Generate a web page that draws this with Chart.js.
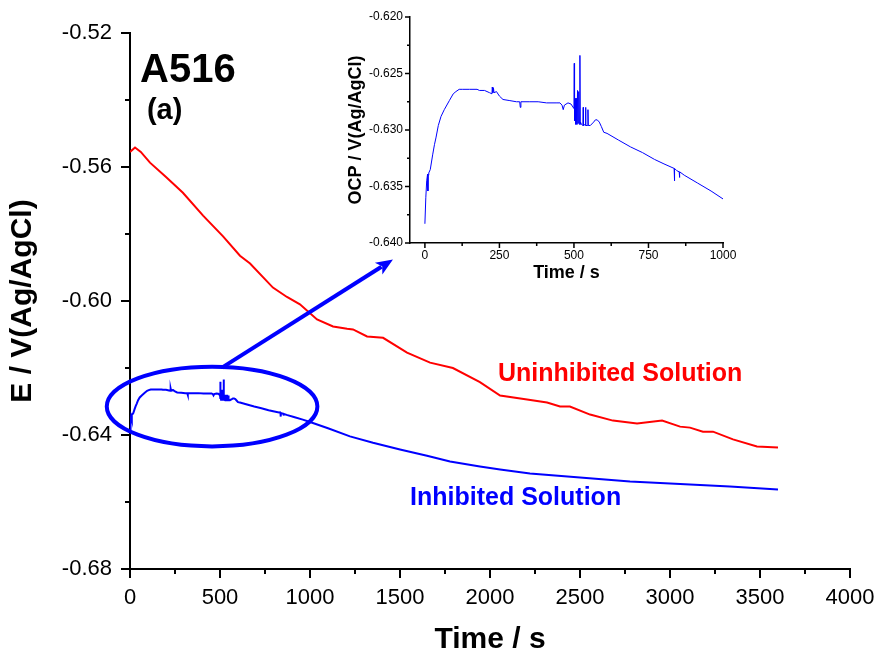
<!DOCTYPE html>
<html><head><meta charset="utf-8">
<script src="https://cdn.jsdelivr.net/npm/chart.js@4.4.1/dist/chart.umd.min.js"></script>
<style>
html,body{margin:0;padding:0;background:#fff;}
#wrap{position:relative;width:878px;height:655px;overflow:hidden;}
#main{position:absolute;left:0;top:0;width:878px;height:655px;}
#inset{position:absolute;left:330px;top:0;width:430px;height:290px;}
</style></head><body>
<div id="wrap">
<canvas id="main" width="878" height="655"></canvas>
<canvas id="inset" width="430" height="290"></canvas>
</div>
<script>
// ---------- DATA ----------
const uninhibitedTime = [0, 28, 60, 111, 200, 294, 406, 517, 611, 667, 794, 872, 944, 1039, 1128, 1206, 1239, 1317, 1406, 1539, 1667, 1794, 1944, 2056, 2206, 2317, 2389, 2444, 2556, 2683, 2817, 2956, 3056, 3111, 3183, 3239, 3350, 3483, 3600];
const uninhibitedE = [-0.5555, -0.5542, -0.5555, -0.5587, -0.5630, -0.5677, -0.5745, -0.5807, -0.5865, -0.5888, -0.5960, -0.5988, -0.6010, -0.6055, -0.6076, -0.6083, -0.6085, -0.6106, -0.6110, -0.6154, -0.6184, -0.6200, -0.6242, -0.6282, -0.6294, -0.6303, -0.6315, -0.6315, -0.6339, -0.6357, -0.6366, -0.6357, -0.6375, -0.6378, -0.6390, -0.6390, -0.6413, -0.6434, -0.6437];

// inhibited solution, first 1000 s (also shown in the inset)
const inhibitedTime = [0, 3, 6, 9, 10, 11, 13, 18, 26, 32, 37, 45, 54, 65, 82, 95, 104, 115, 127, 150, 175, 183, 200, 217, 225, 226, 228, 230, 232, 240, 250, 262, 285, 307, 318, 320, 322, 352, 380, 408, 440, 453, 460, 464, 468, 480, 490, 500, 501, 502, 504, 506, 508, 510, 512, 514, 516, 518, 520, 521, 522, 525, 530, 531, 532, 538, 539, 540, 546, 547, 548, 555, 566, 572, 578, 585, 592, 600, 611, 650, 690, 730, 770, 802, 836, 837, 838, 845, 853, 854, 855, 870, 915, 960, 1000];
const inhibitedE = [-0.6383, -0.6360, -0.6345, -0.6339, -0.6354, -0.6340, -0.6338, -0.6335, -0.6322, -0.6313, -0.6307, -0.6296, -0.6288, -0.6282, -0.6274, -0.6268, -0.6266, -0.6264, -0.6264, -0.6264, -0.6264, -0.6265, -0.6265, -0.6267, -0.6268, -0.6262, -0.6267, -0.6263, -0.6267, -0.6266, -0.6270, -0.6273, -0.6274, -0.6275, -0.6275, -0.6280, -0.6275, -0.6275, -0.6275, -0.6276, -0.6276, -0.6276, -0.6278, -0.6282, -0.6278, -0.6276, -0.6277, -0.6281, -0.6241, -0.6292, -0.6272, -0.6295, -0.6272, -0.6295, -0.6265, -0.6294, -0.6266, -0.6295, -0.6234, -0.6295, -0.6293, -0.6295, -0.6296, -0.6280, -0.6296, -0.6295, -0.6280, -0.6296, -0.6296, -0.6282, -0.6296, -0.6296, -0.6293, -0.6291, -0.6291, -0.6293, -0.6297, -0.6302, -0.6303, -0.6309, -0.6315, -0.6320, -0.6326, -0.6330, -0.6334, -0.6345, -0.6334, -0.6336, -0.6337, -0.6342, -0.6337, -0.6340, -0.6347, -0.6354, -0.6361];

// inhibited solution, remainder of the run
const inhibitedTailTime = [1100, 1222, 1350, 1500, 1650, 1778, 1944, 2056, 2222, 2500, 2778, 3056, 3333, 3600];
const inhibitedTailE = [-0.6380, -0.6404, -0.6423, -0.6443, -0.6462, -0.6479, -0.6494, -0.6503, -0.6515, -0.6527, -0.6539, -0.6546, -0.6554, -0.6563];

// tick values
const mainXMajor = [0, 500, 1000, 1500, 2000, 2500, 3000, 3500, 4000];
const mainXMinor = [250, 750, 1250, 1750, 2250, 2750, 3250, 3750];
const mainYMajor = [-0.68, -0.64, -0.60, -0.56, -0.52];
const mainYMinor = [-0.66, -0.62, -0.58, -0.54];
const insetXMajor = [0, 250, 500, 750, 1000];
const insetXMinor = [125, 375, 625, 875];
const insetYMajor = [-0.640, -0.635, -0.630, -0.625, -0.620];
const insetYMinor = [-0.6375, -0.6325, -0.6275, -0.6225];

// text
const seriesLabels = ['Uninhibited Solution', 'Inhibited Solution'];
const sampleLabel = 'A516';
const panelLabel = '(a)';

// ---------- HELPERS ----------
const FONT = '"Liberation Sans", Arial, Helvetica, sans-serif';
Chart.defaults.font.family = FONT;
Chart.defaults.color = '#000';

function pts(ts, vs) { return ts.map((t, i) => ({x: t, y: vs[i]})); }

function fixX(h) { return s => { s.height = h; s.paddingLeft = 0; s.paddingRight = 0; s.paddingTop = 0; s.paddingBottom = 0; }; }
function fixY(w) { return s => { s.width = w; s.paddingLeft = 0; s.paddingRight = 0; s.paddingTop = 0; s.paddingBottom = 0; }; }

function tickPlugin(id, o) {
  return {
    id,
    afterDraw(chart) {
      const ctx = chart.ctx, ca = chart.chartArea;
      const xs = chart.scales.x, ys = chart.scales.y;
      ctx.save();
      ctx.strokeStyle = '#000';
      ctx.lineWidth = o.w;
      ctx.beginPath();
      o.xMajor.forEach(v => { const p = xs.getPixelForValue(v); ctx.moveTo(p, ca.bottom); ctx.lineTo(p, ca.bottom + o.major); });
      o.xMinor.forEach(v => { const p = xs.getPixelForValue(v); ctx.moveTo(p, ca.bottom); ctx.lineTo(p, ca.bottom + o.minor); });
      o.yMajor.forEach(v => { const p = ys.getPixelForValue(v); ctx.moveTo(ca.left, p); ctx.lineTo(ca.left - o.major, p); });
      o.yMinor.forEach(v => { const p = ys.getPixelForValue(v); ctx.moveTo(ca.left, p); ctx.lineTo(ca.left - o.minor, p); });
      ctx.stroke();
      ctx.restore();
    }
  };
}

// annotation positions in data coordinates
const annot = {
  ellipse: {t: 456, e: -0.6315, rt: 585, re: 0.0119},
  arrowFrom: {t: 511, e: -0.6199},
  arrowTo: {t: 1461, e: -0.5876},
  sample: {t: 56, e: -0.5345},
  panel: {t: 94, e: -0.5458},
  uninh: {t: 2044, e: -0.6240},
  inh: {t: 1556, e: -0.6610}
};

const annotPlugin = {
  id: 'annot',
  afterDatasetsDraw(chart) {
    const ctx = chart.ctx, xs = chart.scales.x, ys = chart.scales.y;
    const X = t => xs.getPixelForValue(t), Y = e => ys.getPixelForValue(e);
    ctx.save();
    const el = annot.ellipse;
    const cx = X(el.t), cy = Y(el.e);
    const rx = X(el.t + el.rt) - cx, ry = Y(el.e - el.re) - cy;
    ctx.strokeStyle = '#0000ff';
    ctx.lineWidth = 4;
    ctx.beginPath();
    ctx.ellipse(cx, cy, rx, ry, 0, 0, Math.PI * 2);
    ctx.stroke();
    const x1 = X(annot.arrowFrom.t), y1 = Y(annot.arrowFrom.e);
    const x2 = X(annot.arrowTo.t), y2 = Y(annot.arrowTo.e);
    const dx = x2 - x1, dy = y2 - y1, len = Math.hypot(dx, dy);
    const ux = dx / len, uy = dy / len;
    const L = 17, W = 7;
    ctx.beginPath();
    ctx.moveTo(x1, y1);
    ctx.lineTo(x2 - ux * L * 0.8, y2 - uy * L * 0.8);
    ctx.stroke();
    ctx.fillStyle = '#0000ff';
    ctx.beginPath();
    ctx.moveTo(x2, y2);
    ctx.lineTo(x2 - ux * L - uy * W, y2 - uy * L + ux * W);
    ctx.lineTo(x2 - ux * L * 0.75, y2 - uy * L * 0.75);
    ctx.lineTo(x2 - ux * L + uy * W, y2 - uy * L - ux * W);
    ctx.closePath();
    ctx.fill();
    ctx.textBaseline = 'alphabetic';
    ctx.textAlign = 'left';
    ctx.fillStyle = '#000';
    ctx.font = 'bold 40px ' + FONT;
    ctx.fillText(sampleLabel, X(annot.sample.t), Y(annot.sample.e));
    ctx.font = 'bold 29px ' + FONT;
    ctx.fillText(panelLabel, X(annot.panel.t), Y(annot.panel.e));
    ctx.font = 'bold 25px ' + FONT;
    ctx.fillStyle = '#ff0000';
    ctx.fillText(seriesLabels[0], X(annot.uninh.t), Y(annot.uninh.e));
    ctx.fillStyle = '#0000ff';
    ctx.fillText(seriesLabels[1], X(annot.inh.t), Y(annot.inh.e));
    ctx.restore();
  }
};

// ---------- MAIN CHART ----------
new Chart(document.getElementById('main'), {
  type: 'scatter',
  data: {
    datasets: [
      {label: seriesLabels[0], data: pts(uninhibitedTime, uninhibitedE), showLine: true, borderColor: '#ff0000', borderWidth: 2, pointRadius: 0, tension: 0},
      {label: seriesLabels[1], data: pts(inhibitedTime.concat(inhibitedTailTime), inhibitedE.concat(inhibitedTailE)), showLine: true, borderColor: '#0000ff', borderWidth: 2, pointRadius: 0, tension: 0}
    ]
  },
  options: {
    responsive: false, animation: false, devicePixelRatio: 1,
    layout: {padding: {left: 0, top: 33, right: 28, bottom: 0}},
    plugins: {legend: {display: false}, tooltip: {enabled: false}},
    scales: {
      x: {
        type: 'linear', min: 0, max: 4000,
        afterBuildTicks: s => { s.ticks = mainXMajor.map(v => ({value: v})); },
        afterFit: fixX(86),
        grid: {drawOnChartArea: false, drawTicks: false},
        border: {display: true, color: '#000', width: 2},
        ticks: {padding: 16, autoSkip: false, maxRotation: 0, font: {size: 22}, color: '#000', callback: v => String(v)},
        title: {display: true, text: 'Time / s', font: {size: 30, weight: 'bold', lineHeight: 1}, padding: {top: 0, bottom: 0}, color: '#000'}
      },
      y: {
        type: 'linear', min: -0.68, max: -0.52,
        afterBuildTicks: s => { s.ticks = mainYMajor.map(v => ({value: v})); },
        afterFit: fixY(130),
        grid: {drawOnChartArea: false, drawTicks: false},
        border: {display: true, color: '#000', width: 2},
        ticks: {padding: 18, autoSkip: false, font: {size: 22}, color: '#000', callback: v => v.toFixed(2)},
        title: {display: true, text: 'E / V(Ag/AgCl)', font: {size: 30, weight: 'bold', lineHeight: 1}, padding: {top: 8, bottom: 0}, color: '#000'}
      }
    }
  },
  plugins: [tickPlugin('mainTicks', {w: 2, major: 9, minor: 5, xMajor: mainXMajor, xMinor: mainXMinor, yMajor: mainYMajor, yMinor: mainYMinor}), annotPlugin]
});

// ---------- INSET CHART ----------
new Chart(document.getElementById('inset'), {
  type: 'scatter',
  data: {
    datasets: [
      {label: seriesLabels[1], data: pts(inhibitedTime, inhibitedE), showLine: true, borderColor: '#0000ff', borderWidth: 1, pointRadius: 0, tension: 0}
    ]
  },
  options: {
    responsive: false, animation: false, devicePixelRatio: 1,
    layout: {padding: {left: 0, top: 17, right: 37, bottom: 0}},
    plugins: {legend: {display: false}, tooltip: {enabled: false}},
    scales: {
      x: {
        type: 'linear', min: -50, max: 1000,
        afterBuildTicks: s => { s.ticks = insetXMajor.map(v => ({value: v})); },
        afterFit: fixX(47),
        grid: {drawOnChartArea: false, drawTicks: false},
        border: {display: true, color: '#000', width: 1.5},
        ticks: {padding: 5, autoSkip: false, maxRotation: 0, font: {size: 12}, color: '#000', callback: v => String(v)},
        title: {display: true, text: 'Time / s', font: {size: 18, weight: 'bold', lineHeight: 1}, padding: {top: 0, bottom: 8}, color: '#000'}
      },
      y: {
        type: 'linear', min: -0.640, max: -0.620,
        afterBuildTicks: s => { s.ticks = insetYMajor.map(v => ({value: v})); },
        afterFit: fixY(80),
        grid: {drawOnChartArea: false, drawTicks: false},
        border: {display: true, color: '#000', width: 1.5},
        ticks: {padding: 7, autoSkip: false, font: {size: 12}, color: '#000', callback: v => v.toFixed(3)},
        title: {display: true, text: 'OCP / V(Ag/AgCl)', font: {size: 18, weight: 'bold', lineHeight: 1}, padding: {top: 17, bottom: 0}, color: '#000'}
      }
    }
  },
  plugins: [tickPlugin('insetTicks', {w: 1.5, major: 5, minor: 3, xMajor: insetXMajor, xMinor: insetXMinor, yMajor: insetYMajor, yMinor: insetYMinor})]
});
</script>
</body></html>
